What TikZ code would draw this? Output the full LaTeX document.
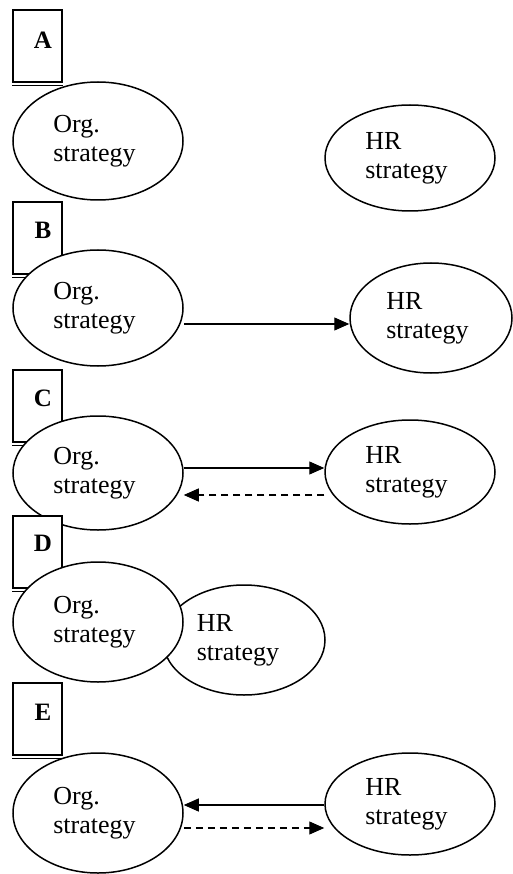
\documentclass[tikz,border=0pt]{standalone}
\usepackage{fontspec}
\setmainfont{Liberation Serif}
\usetikzlibrary{shapes.geometric,arrows.meta}
\tikzset{
  ell/.style={ellipse,draw,line width=1.5pt,fill=white,inner sep=0pt,align=left,
    font=\fontsize{26}{29}\selectfont},
  lbox/.style={rectangle,draw,line width=1.4pt,fill=white,minimum width=49pt,minimum height=72pt,inner sep=0pt},
  lett/.style={font=\fontsize{25}{29}\selectfont\bfseries,inner sep=0pt},
  arr/.style={line width=1.1pt,-{Triangle[length=15pt,width=13pt]}},
  darr/.style={arr,dash pattern=on 7pt off 5pt},
}
\newcommand{\shadowline}[1]{\draw[line width=1pt] ([yshift=-3pt]#1.south west) -- ([yshift=-3pt]#1.south east);}
\newcommand{\orgtxt}{Org.\\strategy\hspace*{7pt}}
\newcommand{\hrtxt}{HR\\strategy\hspace*{7pt}}
\begin{document}
\begin{tikzpicture}[x=1pt,y=-1pt]
\useasboundingbox (0,0) rectangle (513,874);
% A
\node[lbox] (boxA) at (37.5,46) {};
\shadowline{boxA}
\node[lett] (labA) at (43,40) {A};
\node[ell,minimum width=170pt,minimum height=118pt] (orgA) at (98,141) {\orgtxt};
\node[ell,minimum width=170pt,minimum height=106pt] (hrA) at (410,158) {\hrtxt};
% B
\node[lbox] (boxB) at (37.5,238) {};
\shadowline{boxB}
\node[lett] (labB) at (43,230) {B};
\node[ell,minimum width=170pt,minimum height=116pt] (orgB) at (98,308) {\orgtxt};
\node[ell,minimum width=162pt,minimum height=110pt] (hrB) at (431,318) {\hrtxt};
\draw[arr] (orgB.east |- 0,324) -- (hrB.west |- 0,324);
% C
\node[lbox] (boxC) at (37.5,406) {};
\shadowline{boxC}
\node[lett] (labC) at (43,398) {C};
\node[ell,minimum width=170pt,minimum height=114pt] (orgC) at (98,473) {\orgtxt};
\node[ell,minimum width=170pt,minimum height=104pt] (hrC) at (410,472) {\hrtxt};
\draw[arr] (orgC.east |- 0,468) -- (hrC.west |- 0,468);
\draw[darr] (hrC.west |- 0,495) -- (orgC.east |- 0,495);
% D
\node[lbox] (boxD) at (37.5,552) {};
\shadowline{boxD}
\node[lett] (labD) at (43,543) {D};
\node[ell,minimum width=162pt,minimum height=110pt] (hrD) at (244,640) {\raisebox{-8pt}{HR}\\\raisebox{-8pt}{strategy}\hspace*{12pt}};
\node[ell,minimum width=170pt,minimum height=120pt] (orgD) at (98,622) {\orgtxt};
% E
\node[lbox] (boxE) at (37.5,719) {};
\shadowline{boxE}
\node[lett] (labE) at (43,712) {E};
\node[ell,minimum width=170pt,minimum height=120pt] (orgE) at (98,813) {\orgtxt};
\node[ell,minimum width=170pt,minimum height=102pt] (hrE) at (410,804) {\hrtxt};
\draw[arr] (hrE.west |- 0,805) -- (orgE.east |- 0,805);
\draw[darr] (orgE.east |- 0,828) -- (hrE.west |- 0,828);
\end{tikzpicture}
\end{document}
